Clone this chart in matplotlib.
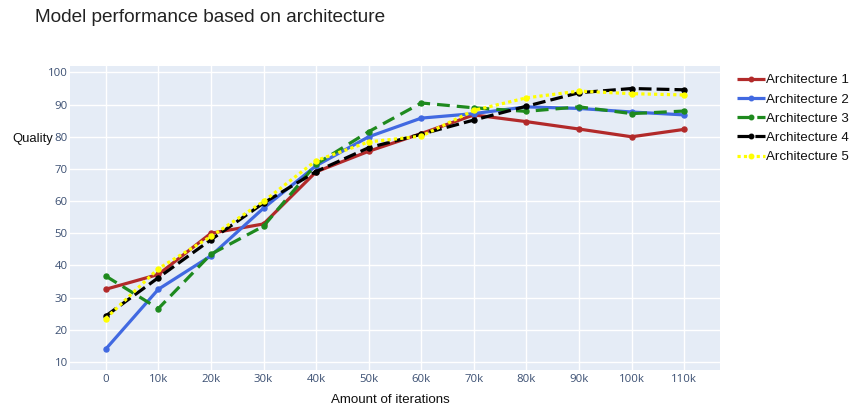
import matplotlib
matplotlib.use("Agg")
import matplotlib.pyplot as plt

iterations = [0, 10000, 20000, 30000, 40000, 50000, 60000, 70000, 80000, 90000, 100000, 110000]
tick_labels = ["0", "10k", "20k", "30k", "40k", "50k", "60k", "70k", "80k", "90k", "100k", "110k"]

arch1 = [32.6, 37.2, 50.0, 52.9, 69.1, 75.5, 81.0, 86.8, 84.7, 82.4, 80.0, 82.3]
arch2 = [14.0, 32.6, 43.0, 57.8, 71.0, 80.0, 85.8, 87.2, 89.3, 88.8, 87.7, 86.8]
arch3 = [36.7, 26.6, 43.5, 52.2, 71.5, 81.6, 90.5, 89.0, 87.9, 89.3, 87.2, 88.0]
arch4 = [24.3, 36.2, 48.0, 59.4, 69.2, 76.6, 80.8, 85.2, 89.5, 93.7, 95.0, 94.6]
arch5 = [23.5, 39.0, 49.0, 59.9, 72.6, 78.4, 80.2, 88.2, 92.1, 94.2, 93.4, 93.0]

series = [
    ("Architecture 1", arch1, "#b22a2a", "-"),
    ("Architecture 2", arch2, "#4169e1", "-"),
    ("Architecture 3", arch3, "#1e8a1e", (0, (4, 2.2))),
    ("Architecture 4", arch4, "#000000", (0, (4, 1.6))),
    ("Architecture 5", arch5, "#ffff00", (0, (1, 1))),
]

fig = plt.figure(figsize=(8.51, 4.09), dpi=100)
W, H = 851, 409
left, right, top, bottom = 70, 720, 66, 370
ax = fig.add_axes([left / W, 1 - bottom / H, (right - left) / W, (bottom - top) / H])
ax.set_facecolor("#e5ecf6")
for s in ax.spines.values():
    s.set_visible(False)

for name, vals, color, ls in series:
    ax.plot(iterations, vals, color=color, linestyle=ls, linewidth=2.3,
            marker="o", markersize=3.6, label=name, solid_capstyle="butt")

ax.set_xlim(-6800, 116800)
ax.set_ylim(7.5, 102)
ax.set_xticks(iterations)
ax.set_xticklabels(tick_labels)
ax.set_yticks(range(10, 101, 10))
ax.grid(True, color="white", linewidth=1)
ax.set_axisbelow(True)
ax.tick_params(length=0, labelsize=8.2, labelcolor="#3b4f72")
ax.tick_params(axis="y", pad=1.5)
ax.tick_params(axis="x", pad=3)
for lab in ax.get_xticklabels() + ax.get_yticklabels():
    lab.set_family("Open Sans")

fig.text(35 / W, 1 - 18 / H, "Model performance based on architecture",
         family="Liberation Sans", fontsize=13.7, va="center", ha="left", color="#222222")
fig.text(390 / W, 1 - 400 / H, "Amount of iterations",
         family="Liberation Sans", fontsize=9.6, va="center", ha="center", color="#111111")
fig.text(12 / W, 1 - 139 / H, "Quality",
         family="Liberation Sans", fontsize=9.4, va="center", ha="left", color="#111111")

leg = ax.legend(loc="upper left", bbox_to_anchor=(737 / W, 1 - 74 / H),
                bbox_transform=fig.transFigure, frameon=False,
                prop={"family": "Liberation Sans", "size": 9.6},
                handlelength=2.1, handletextpad=0.1, labelspacing=0.52,
                borderaxespad=0, borderpad=0, markerscale=0.9)
for t in leg.get_texts():
    t.set_color("#111111")

fig.savefig("out.png", dpi=100)
